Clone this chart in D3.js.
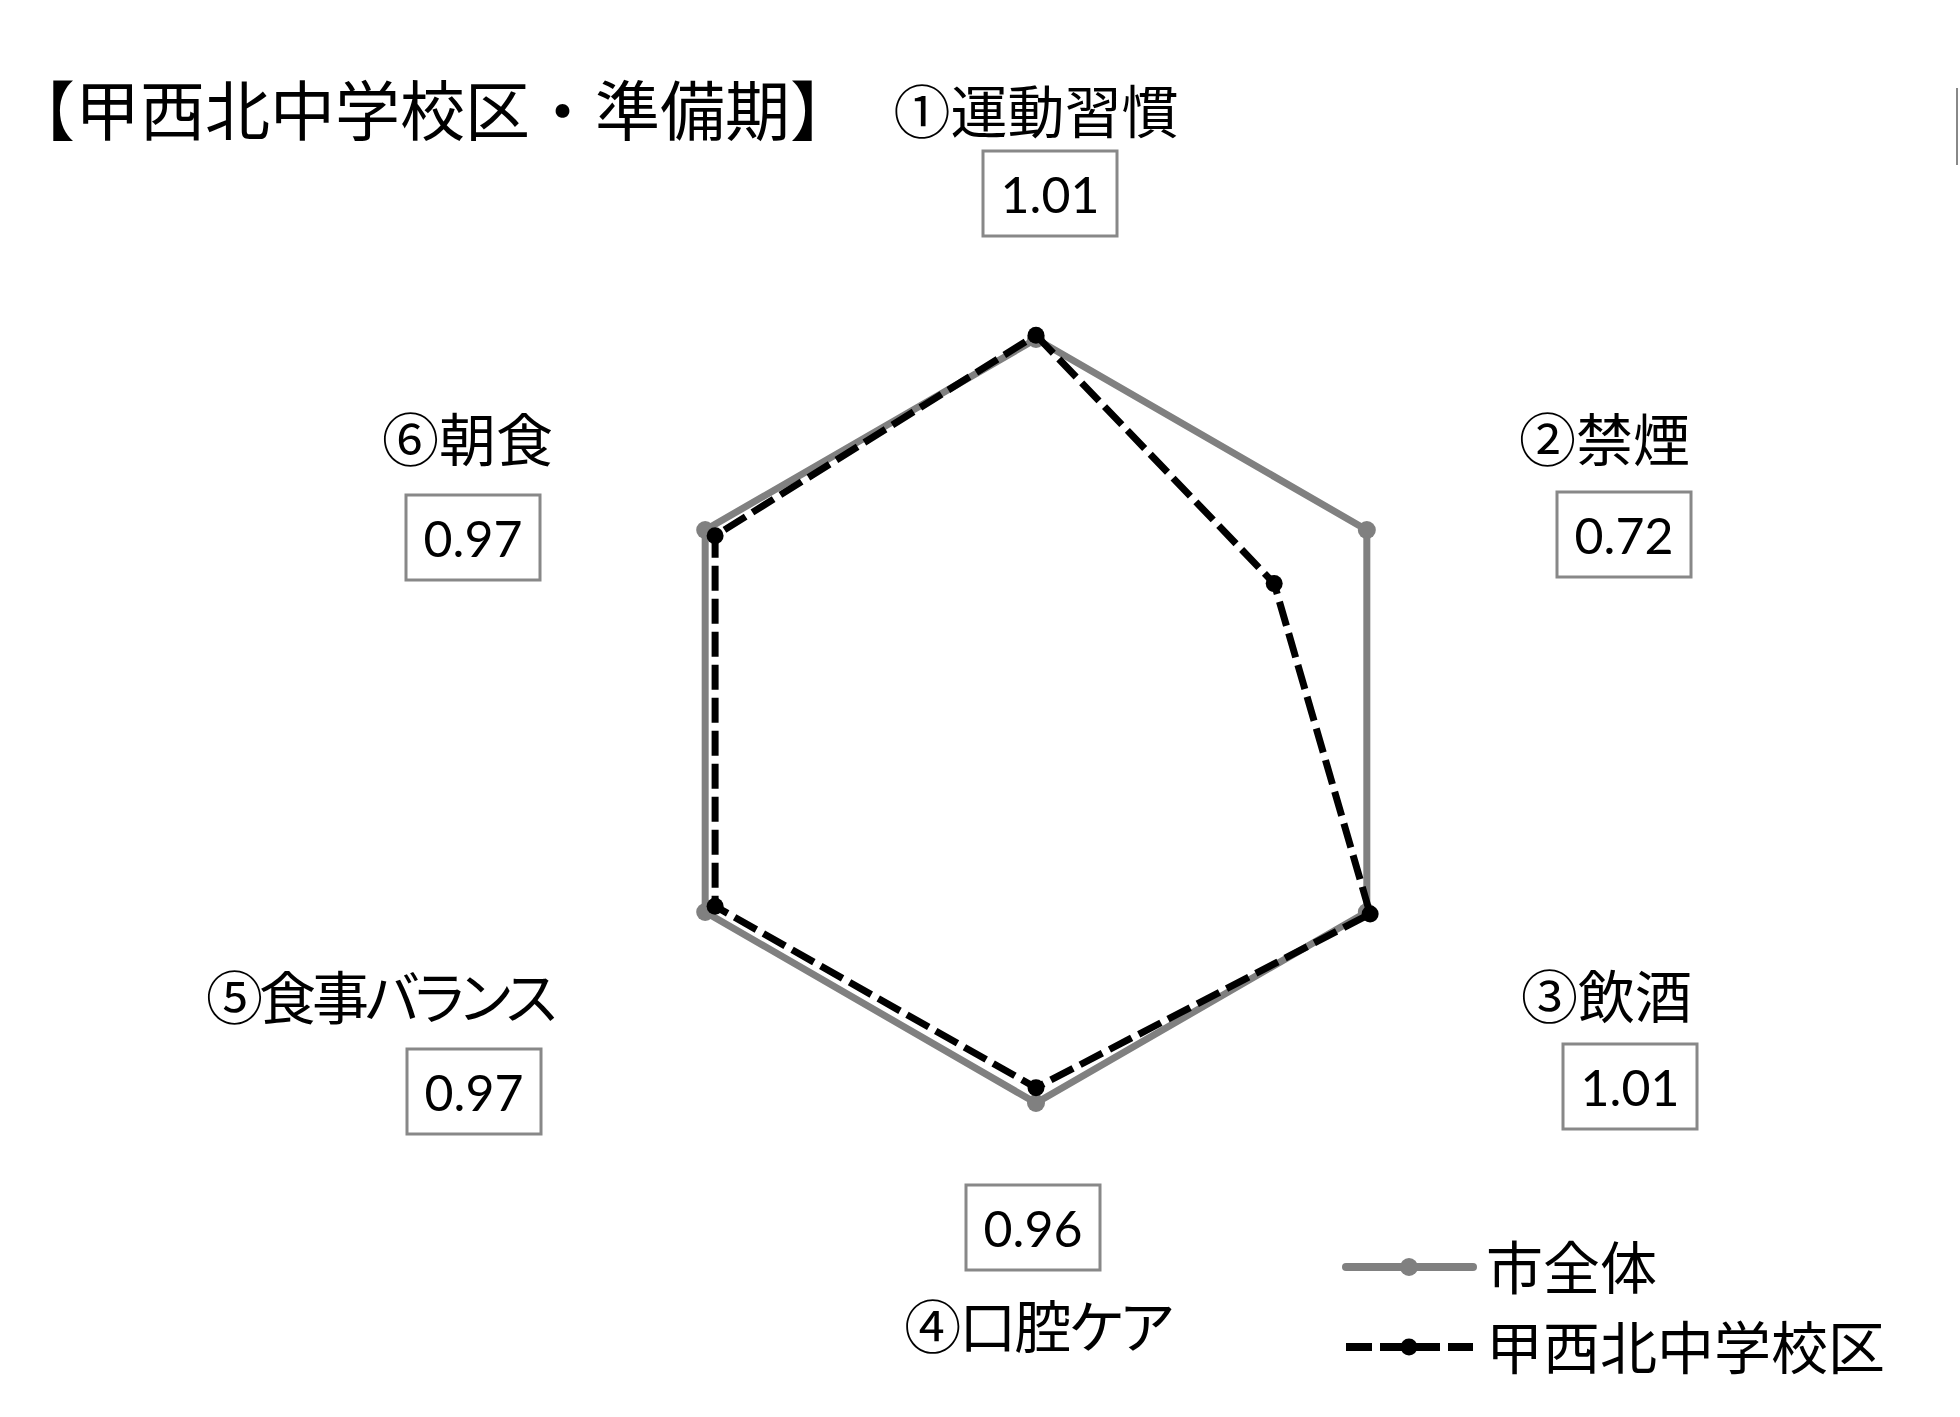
<!DOCTYPE html>
<html>
<head>
<meta charset="utf-8">
<script src="https://cdn.jsdelivr.net/npm/d3@7"></script>
<style>
  html, body { margin: 0; padding: 0; background: #fff; }
  svg { display: block; }
  .jp { font-family: "Noto Sans CJK JP", sans-serif; fill: #000; }
  .num { font-family: Lato, "Liberation Sans", sans-serif; fill: #000; }
</style>
</head>
<body>
<svg id="chart" width="1960" height="1417"></svg>
<script>
// ---- data ----
const title = "【甲西北中学校区・準備期】";
const categories = ["①運動習慣", "②禁煙", "③飲酒", "④口腔ケア", "⑤食事バランス", "⑥朝食"];
const seriesNames = ["市全体", "甲西北中学校区"];
const cityValues = [1.00, 1.00, 1.00, 1.00, 1.00, 1.00];
const districtValues = [1.01, 0.72, 1.01, 0.96, 0.97, 0.97];
const boxLabels = ["1.01", "0.72", "1.01", "0.96", "0.97", "0.97"];

// ---- layout (not data) ----
const cx = 1036, cy = 721;
const labelLayout = [
  { x: 1036, y: 133, anchor: "middle", ls: 0,  bx: 983, by: 151 },
  { x: 1519, y: 461, anchor: "start",  ls: 0,  bx: 1557, by: 492 },
  { x: 1521, y: 1018, anchor: "start", ls: 0,  bx: 1563, by: 1044 },
  { x: 1038, y: 1348, anchor: "middle", ls: -2, bx: 966, by: 1185 },
  { x: 553, y: 1019, anchor: "end",    ls: -4, bx: 407, by: 1049 },
  { x: 553, y: 461, anchor: "end",     ls: 0,  bx: 406, by: 495 }
];
const boxW = 134, boxH = 85;

const svg = d3.select("#chart");
svg.append("rect").attr("width", 1960).attr("height", 1417).attr("fill", "#fff");

// title
svg.append("text").attr("class", "jp")
  .attr("x", 10).attr("y", 135)
  .attr("font-size", 65)
  .text(title);

// right-edge border fragment
svg.append("line").attr("x1", 1957).attr("x2", 1957).attr("y1", 88).attr("y2", 165)
  .attr("stroke", "#888").attr("stroke-width", 2);

const r = d3.scaleLinear().domain([0, 1]).range([0, 382]);
const angle = d3.scaleLinear().domain([0, categories.length]).range([0, 2 * Math.PI]);

const g = svg.append("g").attr("transform", `translate(${cx},${cy})`);

const radial = d3.lineRadial()
  .angle((d, i) => angle(i))
  .radius(d => r(d))
  .curve(d3.curveLinearClosed);

function pt(v, i) {
  const a = angle(i);
  return [r(v) * Math.sin(a), -r(v) * Math.cos(a)];
}

// city series
g.append("path").datum(cityValues)
  .attr("d", radial)
  .attr("fill", "none").attr("stroke", "#808080").attr("stroke-width", 7)
  .attr("stroke-linejoin", "round");
g.selectAll("circle.city").data(cityValues).join("circle").attr("class", "city")
  .attr("cx", (d, i) => pt(d, i)[0]).attr("cy", (d, i) => pt(d, i)[1])
  .attr("r", 9).attr("fill", "#808080");

// district series
g.append("path").datum(districtValues)
  .attr("d", radial)
  .attr("fill", "none").attr("stroke", "#000").attr("stroke-width", 7)
  .attr("stroke-dasharray", "25,8");
g.selectAll("circle.dist").data(districtValues).join("circle").attr("class", "dist")
  .attr("cx", (d, i) => pt(d, i)[0]).attr("cy", (d, i) => pt(d, i)[1])
  .attr("r", 8.5).attr("fill", "#000");

// category labels
svg.selectAll("text.cat").data(categories).join("text")
  .attr("class", "jp cat")
  .attr("x", (d, i) => labelLayout[i].x)
  .attr("y", (d, i) => labelLayout[i].y)
  .attr("text-anchor", (d, i) => labelLayout[i].anchor)
  .attr("font-size", 57)
  .attr("letter-spacing", (d, i) => labelLayout[i].ls)
  .style("font-feature-settings", "'palt'")
  .text(d => d);

// value boxes
const boxes = svg.selectAll("g.box").data(boxLabels).join("g").attr("class", "box")
  .attr("transform", (d, i) => `translate(${labelLayout[i].bx},${labelLayout[i].by})`);
boxes.append("rect").attr("width", boxW).attr("height", boxH)
  .attr("fill", "#fff").attr("stroke", "#888").attr("stroke-width", 3);
boxes.append("text").attr("class", "num")
  .attr("x", boxW / 2).attr("y", 62)
  .attr("text-anchor", "middle").attr("font-size", 50)
  .text(d => d);

// legend
const legend = svg.append("g");
const legendRows = [
  { name: seriesNames[0], y: 1267, color: "#808080", dash: null, r: 9, ty: 1289 },
  { name: seriesNames[1], y: 1347, color: "#000", dash: "26,8", r: 8.5, ty: 1369 }
];
legendRows.forEach(row => {
  legend.append("line")
    .attr("x1", 1346).attr("x2", 1473).attr("y1", row.y).attr("y2", row.y)
    .attr("stroke", row.color).attr("stroke-width", 8)
    .attr("stroke-linecap", row.dash ? "butt" : "round")
    .attr("stroke-dasharray", row.dash);
  legend.append("circle").attr("cx", 1409).attr("cy", row.y).attr("r", row.r).attr("fill", row.color);
  legend.append("text").attr("class", "jp")
    .attr("x", 1486).attr("y", row.ty).attr("font-size", 57)
    .text(row.name);
});
</script>
</body>
</html>
